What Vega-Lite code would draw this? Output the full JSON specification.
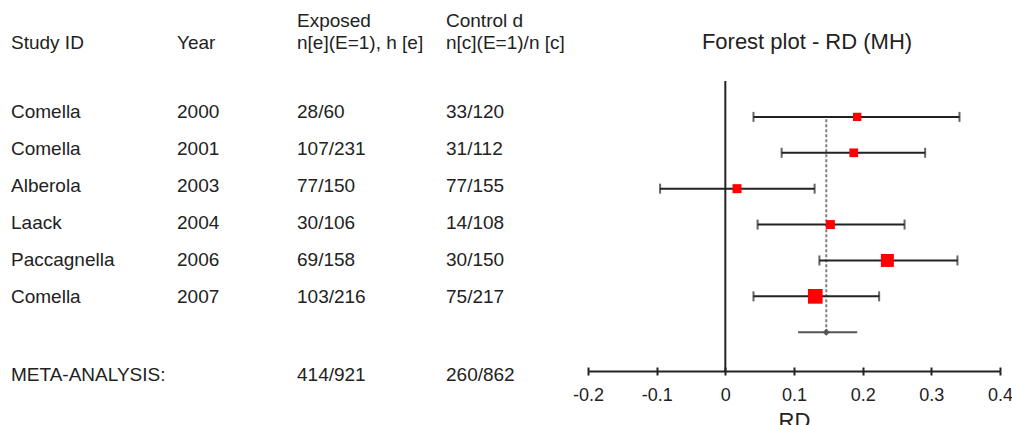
{
  "$schema": "https://vega.github.io/schema/vega-lite/v6.json",
  "padding": {"left": 0, "top": 12, "right": 0, "bottom": 0},
  "spacing": 28,
  "bounds": "flush",
  "config": {
    "view": {"stroke": null},
    "font": "Liberation Sans",
    "text": {"align": "left", "baseline": "middle", "fontSize": 19, "color": "#222", "font": "Liberation Sans"},
    "axisX": {"domainColor": "#222", "domainWidth": 2, "tickColor": "#222", "tickWidth": 2, "tickSize": 4, "labelFontSize": 18, "labelFont": "Liberation Sans", "labelColor": "#222", "labelPadding": 11, "titleFontSize": 22, "titleFont": "Liberation Sans", "titleFontWeight": "normal", "titleColor": "#222", "titlePadding": 6, "grid": false, "labelFlush": false, "labelOverlap": false}
  },
  "datasets": {
    "studies": [
      {"study": "Comella", "year": "2000", "exp": "28/60", "ctl": "33/120", "row": 1, "rd": 0.192, "lo": 0.041, "hi": 0.341, "weight": 10.0, "kind": "study"},
      {"study": "Comella", "year": "2001", "exp": "107/231", "ctl": "31/112", "row": 2, "rd": 0.187, "lo": 0.082, "hi": 0.291, "weight": 11.0, "kind": "study"},
      {"study": "Alberola", "year": "2003", "exp": "77/150", "ctl": "77/155", "row": 3, "rd": 0.017, "lo": -0.095, "hi": 0.130, "weight": 11.7, "kind": "study"},
      {"study": "Laack", "year": "2004", "exp": "30/106", "ctl": "14/108", "row": 4, "rd": 0.153, "lo": 0.047, "hi": 0.261, "weight": 11.7, "kind": "study"},
      {"study": "Paccagnella", "year": "2006", "exp": "69/158", "ctl": "30/150", "row": 5, "rd": 0.236, "lo": 0.137, "hi": 0.338, "weight": 24.4, "kind": "study"},
      {"study": "Comella", "year": "2007", "exp": "103/216", "ctl": "75/217", "row": 6, "rd": 0.131, "lo": 0.041, "hi": 0.224, "weight": 31.2, "kind": "study"},
      {"study": "META-ANALYSIS:", "year": "", "exp": "414/921", "ctl": "260/862", "row": 7, "rd": 0.147, "lo": 0.106, "hi": 0.192, "weight": 100, "kind": "meta"}
    ],
    "columns": [
      {"key": "study", "col": 0, "h1": "", "h2": "Study ID"},
      {"key": "year", "col": 1, "h1": "", "h2": "Year"},
      {"key": "exp", "col": 2, "h1": "Exposed", "h2": "n[e](E=1), h [e]"},
      {"key": "ctl", "col": 3, "h1": "Control d", "h2": "n[c](E=1)/n [c]"}
    ]
  },
  "hconcat": [
    {
      "width": 560,
      "height": 290,
      "layer": [
        {
          "data": {"name": "columns"},
          "transform": [{"filter": "datum.h1 != ''"}],
          "mark": {"type": "text"},
          "encoding": {
            "x": {"field": "col", "type": "quantitative", "scale": {"domain": [0, 1, 2, 3], "range": [11, 177, 297, 446]}, "axis": null},
            "y": {"datum": -1, "type": "quantitative", "scale": {"domain": [-1, 0, 1, 6, 7], "range": [-60, -38, 30.5, 216, 294]}, "axis": null},
            "text": {"field": "h1"}
          }
        },
        {
          "data": {"name": "columns"},
          "mark": {"type": "text"},
          "encoding": {
            "x": {"field": "col", "type": "quantitative", "axis": null},
            "y": {"datum": 0, "type": "quantitative", "axis": null},
            "text": {"field": "h2"}
          }
        },
        {
          "data": {"name": "studies"},
          "mark": {"type": "text"},
          "encoding": {
            "x": {"datum": 0, "type": "quantitative", "axis": null},
            "y": {"field": "row", "type": "quantitative", "axis": null},
            "text": {"field": "study"}
          }
        },
        {
          "data": {"name": "studies"},
          "mark": {"type": "text"},
          "encoding": {
            "x": {"datum": 1, "type": "quantitative", "axis": null},
            "y": {"field": "row", "type": "quantitative", "axis": null},
            "text": {"field": "year"}
          }
        },
        {
          "data": {"name": "studies"},
          "mark": {"type": "text"},
          "encoding": {
            "x": {"datum": 2, "type": "quantitative", "axis": null},
            "y": {"field": "row", "type": "quantitative", "axis": null},
            "text": {"field": "exp"}
          }
        },
        {
          "data": {"name": "studies"},
          "mark": {"type": "text"},
          "encoding": {
            "x": {"datum": 3, "type": "quantitative", "axis": null},
            "y": {"field": "row", "type": "quantitative", "axis": null},
            "text": {"field": "ctl"}
          }
        }
      ]
    },
    {
      "width": 412,
      "height": 290,
      "title": {"text": "Forest plot - RD (MH)", "fontSize": 22, "fontWeight": "normal", "font": "Liberation Sans", "color": "#222", "offset": 26, "dx": 13},
      "data": {"name": "studies"},
      "resolve": {"axis": {"x": "independent"}},
      "layer": [
        {
          "transform": [{"filter": "datum.kind == 'meta'"}],
          "mark": {"type": "rule", "color": "#222", "strokeWidth": 2},
          "encoding": {
            "x": {"datum": 0, "type": "quantitative", "title": "RD", "scale": {"domain": [-0.2, 0.4], "nice": false, "zero": false},
              "axis": {"orient": "bottom", "title": "RD", "values": [-0.2, -0.1, 0, 0.1, 0.2, 0.3, 0.4], "labelExpr": "'' + datum.value"}}
          }
        },
        {
          "transform": [{"filter": "datum.kind == 'meta'"}],
          "mark": {"type": "rule", "color": "#808080", "strokeWidth": 2, "strokeDash": [3, 2]},
          "encoding": {
            "x": {"field": "rd", "type": "quantitative", "title": "RD",
              "axis": {"orient": "bottom", "title": null, "values": [-0.2, -0.1, 0, 0.1, 0.2, 0.3, 0.4], "labels": false, "domain": false, "tickSize": -4}},
            "y": {"field": "row", "type": "quantitative", "scale": {"domain": [0, 8.08], "reverse": true, "nice": false, "zero": false}, "axis": null},
            "y2": {"datum": 1}
          }
        },
        {
          "transform": [{"filter": "datum.kind == 'study'"}],
          "mark": {"type": "rule", "color": "#222", "strokeWidth": 2},
          "encoding": {
            "x": {"field": "lo", "type": "quantitative", "title": "RD", "axis": null},
            "x2": {"field": "hi"},
            "y": {"field": "row", "type": "quantitative", "axis": null}
          }
        },
        {
          "transform": [{"filter": "datum.kind == 'study'"}, {"fold": ["lo", "hi"], "as": ["end", "val"]}],
          "mark": {"type": "tick", "orient": "vertical", "size": 10, "thickness": 2, "color": "#222"},
          "encoding": {
            "x": {"field": "val", "type": "quantitative", "title": "RD", "axis": null},
            "y": {"field": "row", "type": "quantitative", "axis": null}
          }
        },
        {
          "transform": [{"filter": "datum.kind == 'study'"}],
          "mark": {"type": "square", "filled": true, "color": "#ff0000", "opacity": 1},
          "encoding": {
            "x": {"field": "rd", "type": "quantitative", "title": "RD", "axis": null},
            "y": {"field": "row", "type": "quantitative", "axis": null},
            "size": {"field": "weight", "type": "quantitative", "scale": {"domain": [0, 32], "range": [0, 221]}, "legend": null}
          }
        },
        {
          "transform": [{"filter": "datum.kind == 'meta'"}],
          "mark": {"type": "rule", "color": "#555", "strokeWidth": 2},
          "encoding": {
            "x": {"field": "lo", "type": "quantitative", "title": "RD", "axis": null},
            "x2": {"field": "hi"},
            "y": {"field": "row", "type": "quantitative", "axis": null}
          }
        },
        {
          "transform": [{"filter": "datum.kind == 'meta'"}],
          "mark": {"type": "point", "shape": "diamond", "filled": true, "color": "#555", "size": 50, "opacity": 1},
          "encoding": {
            "x": {"field": "rd", "type": "quantitative", "title": "RD", "axis": null},
            "y": {"field": "row", "type": "quantitative", "axis": null}
          }
        }
      ]
    }
  ]
}
